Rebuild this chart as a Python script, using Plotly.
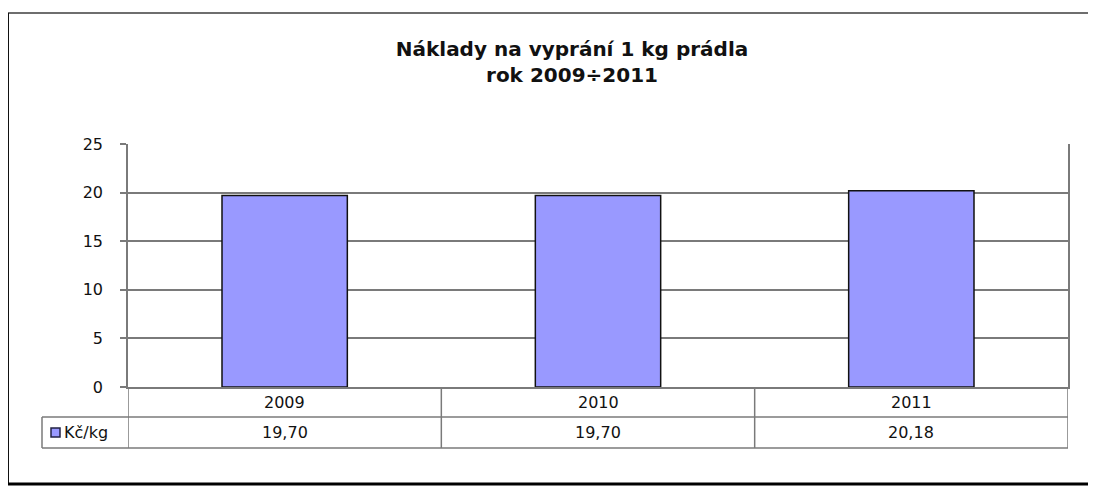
import plotly.graph_objects as go

# ---- data ----
categories = ["2009", "2010", "2011"]
values = [19.70, 19.70, 20.18]
series_name = "Kč/kg"
title_line1 = "Náklady na vyprání 1 kg prádla"
title_line2 = "rok 2009÷2011"
y_ticks = [0, 5, 10, 15, 20, 25]

OFF = 8  # page body margin of the browser
W, H = 1096 - OFF, 489 - OFF
L, R, T, B = 128, 1068, 144, 387   # plot area in screenshot px


def px(xp):
    return (xp - L) / (R - L)


def py(yp):
    return (B - yp) / (B - T)


FONT = "DejaVu Sans, Liberation Sans, Arial, sans-serif"
BAR = "#9999FF"
GRID = "#7a7a7a"
TXT = "#111111"

fig = go.Figure()
fig.add_trace(go.Bar(
    x=categories, y=values, name=series_name, width=0.4,
    marker=dict(color=BAR, line=dict(color="#111111", width=1.5)),
    showlegend=False, hoverinfo="x+y",
))

shapes = []
# outer frame
shapes.append(dict(type="line", xref="paper", yref="paper", x0=px(8), x1=px(1094), y0=py(13), y1=py(13),
                   line=dict(color="#6e6e6e", width=2)))
shapes.append(dict(type="line", xref="paper", yref="paper", x0=px(8), x1=px(8), y0=py(13), y1=py(484),
                   line=dict(color="#111111", width=2)))
shapes.append(dict(type="line", xref="paper", yref="paper", x0=px(8), x1=px(1094), y0=py(484), y1=py(484),
                   line=dict(color="#000000", width=3)))
shapes.append(dict(type="line", xref="paper", yref="paper", x0=px(1094), x1=px(1094), y0=py(13), y1=py(484),
                   line=dict(color="#cfcfcf", width=2)))

# data table lines
row1_bot = py(417)
row2_bot = py(448)
shapes.append(dict(type="line", xref="paper", yref="paper", x0=px(42), x1=1, y0=row1_bot, y1=row1_bot,
                   line=dict(color=GRID, width=1.5)))
shapes.append(dict(type="line", xref="paper", yref="paper", x0=px(42), x1=1, y0=row2_bot, y1=row2_bot,
                   line=dict(color=GRID, width=1.5)))
shapes.append(dict(type="line", xref="paper", yref="paper", x0=px(42), x1=px(42), y0=row1_bot, y1=row2_bot,
                   line=dict(color=GRID, width=1.5)))
n = len(categories)
for k in range(n + 1):
    xb = k - 0.5
    shapes.append(dict(type="line", xref="x", yref="paper", x0=xb, x1=xb, y0=0, y1=row2_bot,
                       line=dict(color=GRID, width=1.5)))
# legend key
shapes.append(dict(type="rect", xref="paper", yref="paper", x0=px(51), x1=px(60), y0=py(437), y1=py(428),
                   fillcolor=BAR, line=dict(color="#222244", width=1.5)))

annotations = []
for i, (c, v) in enumerate(zip(categories, values)):
    annotations.append(dict(x=i, y=py(402), xref="x", yref="paper", text=c, showarrow=False,
                            font=dict(family=FONT, size=16, color=TXT), xanchor="center", yanchor="middle"))
    annotations.append(dict(x=i, y=py(432.5), xref="x", yref="paper", text=f"{v:.2f}".replace(".", ","),
                            showarrow=False, font=dict(family=FONT, size=16, color=TXT),
                            xanchor="center", yanchor="middle"))
annotations.append(dict(x=px(62), y=py(432.5), xref="paper", yref="paper", text=series_name, showarrow=False,
                        font=dict(family=FONT, size=16, color=TXT), xanchor="left", yanchor="middle"))

fig.update_layout(
    width=W, height=H,
    margin=dict(l=L - OFF, r=(1096 - R), t=T - OFF, b=(489 - B), pad=0),
    paper_bgcolor="white", plot_bgcolor="white",
    title=dict(text=f"<b>{title_line1}<br>{title_line2}</b>", x=(572 - OFF) / W, xanchor="center",
               y=1 - (56 - OFF) / H, yanchor="middle", yref="container",
               font=dict(family=FONT, size=20, color=TXT)),
    shapes=shapes, annotations=annotations,
    bargap=0.6,
    xaxis=dict(type="category", range=[-0.5, 2.5], showticklabels=False, ticks="",
               showgrid=False, showline=True, linecolor=GRID, linewidth=1.5, zeroline=False, fixedrange=True),
    yaxis=dict(range=[0, 25], tickvals=y_ticks, ticks="outside", ticklen=6, tickcolor=GRID, tickwidth=1.5,
               showgrid=True, gridcolor=GRID, gridwidth=1.5, showline=True, mirror=True,
               linecolor=GRID, linewidth=1.5, zeroline=False, ticklabelstandoff=14,
               tickfont=dict(family=FONT, size=16, color=TXT), fixedrange=True),
)

fig.write_html("out.html")
